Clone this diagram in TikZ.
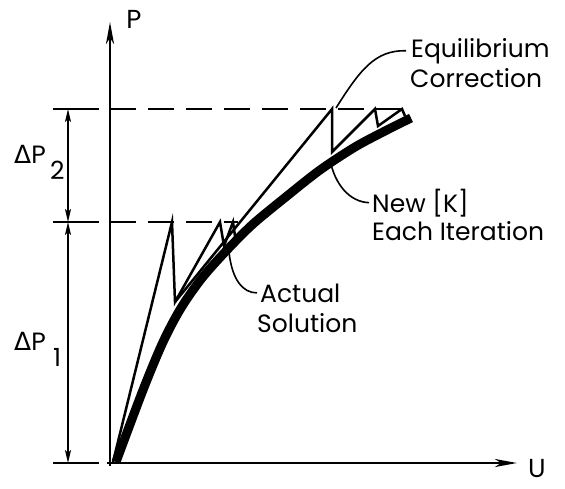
\documentclass[tikz,border=0pt]{standalone}
\usepackage{fontspec}
\setmainfont{Poppins}
\newfontfamily\greekfont{DejaVu Sans}
\usetikzlibrary{arrows.meta}
\tikzset{
  >={Stealth[length=22pt,width=8pt,inset=6pt]},
  axis/.style={->,line width=2.6pt},
  dimtip/.tip={Stealth[length=13pt,width=6pt,inset=3pt]},
  dimline/.style={dimtip-dimtip,line width=1.8pt},
  tickline/.style={line width=1.8pt},
  level/.style={line width=2.2pt,dash pattern=on 26pt off 12pt},
  iter/.style={line width=2.5pt,line join=miter},
  exact/.style={line width=9pt},
  leader/.style={line width=1.6pt},
  lbl/.style={font=\fontsize{25}{30}\selectfont,inner sep=0pt,anchor=base west},
  axlbl/.style={font=\fontsize{26}{30}\selectfont,inner sep=0pt},
  dlbl/.style={font=\fontsize{25}{28}\selectfont,inner sep=0pt,anchor=base west}
}

\begin{document}
\begin{tikzpicture}[x=1pt,y=-1pt]
  \useasboundingbox (0,0) rectangle (565,488);

  % axes
  \coordinate (o) at (110,463);
  \coordinate (ptip) at (110,22);
  \coordinate (utip) at (517,463);
  \draw[axis] (110,466) -- (ptip);
  \draw[axis] (107,463) -- (utip);
  \node[axlbl] (plbl) at (134,19) {P};
  \node[axlbl] (ulbl) at (537,469) {U};

  % load levels
  \coordinate (lv0) at (53,463);
  \coordinate (lv1) at (53,222);
  \coordinate (lv2) at (53,109);
  \foreach \l in {lv0,lv1,lv2} \draw[tickline] (\l) -- ++(46,0);
  \draw[level] (110,222) -- (238,222);
  \draw[level] (110,109) -- (406,109);
  \draw[dimline] ([xshift=15pt]lv2) -- ([xshift=15pt]lv1);
  \draw[dimline] ([xshift=15pt]lv1) -- ([xshift=15pt]lv0);
  \node[dlbl] (dp2) at (14,163) {{\greekfont Δ}P};
  \node[dlbl] (dp2i) at (50,179) {2};
  \node[dlbl] (dp1) at (14,350) {{\greekfont Δ}P};
  \node[dlbl] (dp1i) at (53,366) {1};

  % actual solution
  \draw[exact] plot[smooth] coordinates {(116,462) (143,390) (163,342) (181,308)
    (202,278) (227,250) (253,224) (287,196) (320,170) (355,147) (385,131) (411,118)};

  % iterations
  \coordinate (a1) at (172,222);
  \coordinate (b1) at (175,302);
  \coordinate (a2) at (332,109);
  \draw[iter] (113,462) -- (a1) -- (b1) -- (220,222) -- (224,246) -- (233,222) -- (235,236);
  \draw[iter] (b1) -- (a2) -- (332,152) -- (375,109) -- (378,126) -- (402,109) -- (405,116);

  % labels
  \node[lbl] (equi) at (411,57) {Equilibrium};
  \node[lbl] (corr) at (410,87) {Correction};
  \node[lbl] (newk) at (372,212) {New [K]};
  \node[lbl] (each) at (372,240) {Each Iteration};
  \node[lbl] (act) at (260,302) {Actual};
  \node[lbl] (sol) at (257,332) {Solution};

  \draw[leader] (336,108) .. controls (360,70) and (375,50) .. ([xshift=-5pt]equi.west);
  \draw[leader] (330,160) .. controls (335,185) and (350,202) .. ([xshift=-3pt]newk.west);
  \draw[leader] (229,252) .. controls (232,280) and (243,293) .. ([xshift=-3pt]act.west);
\end{tikzpicture}
\end{document}
